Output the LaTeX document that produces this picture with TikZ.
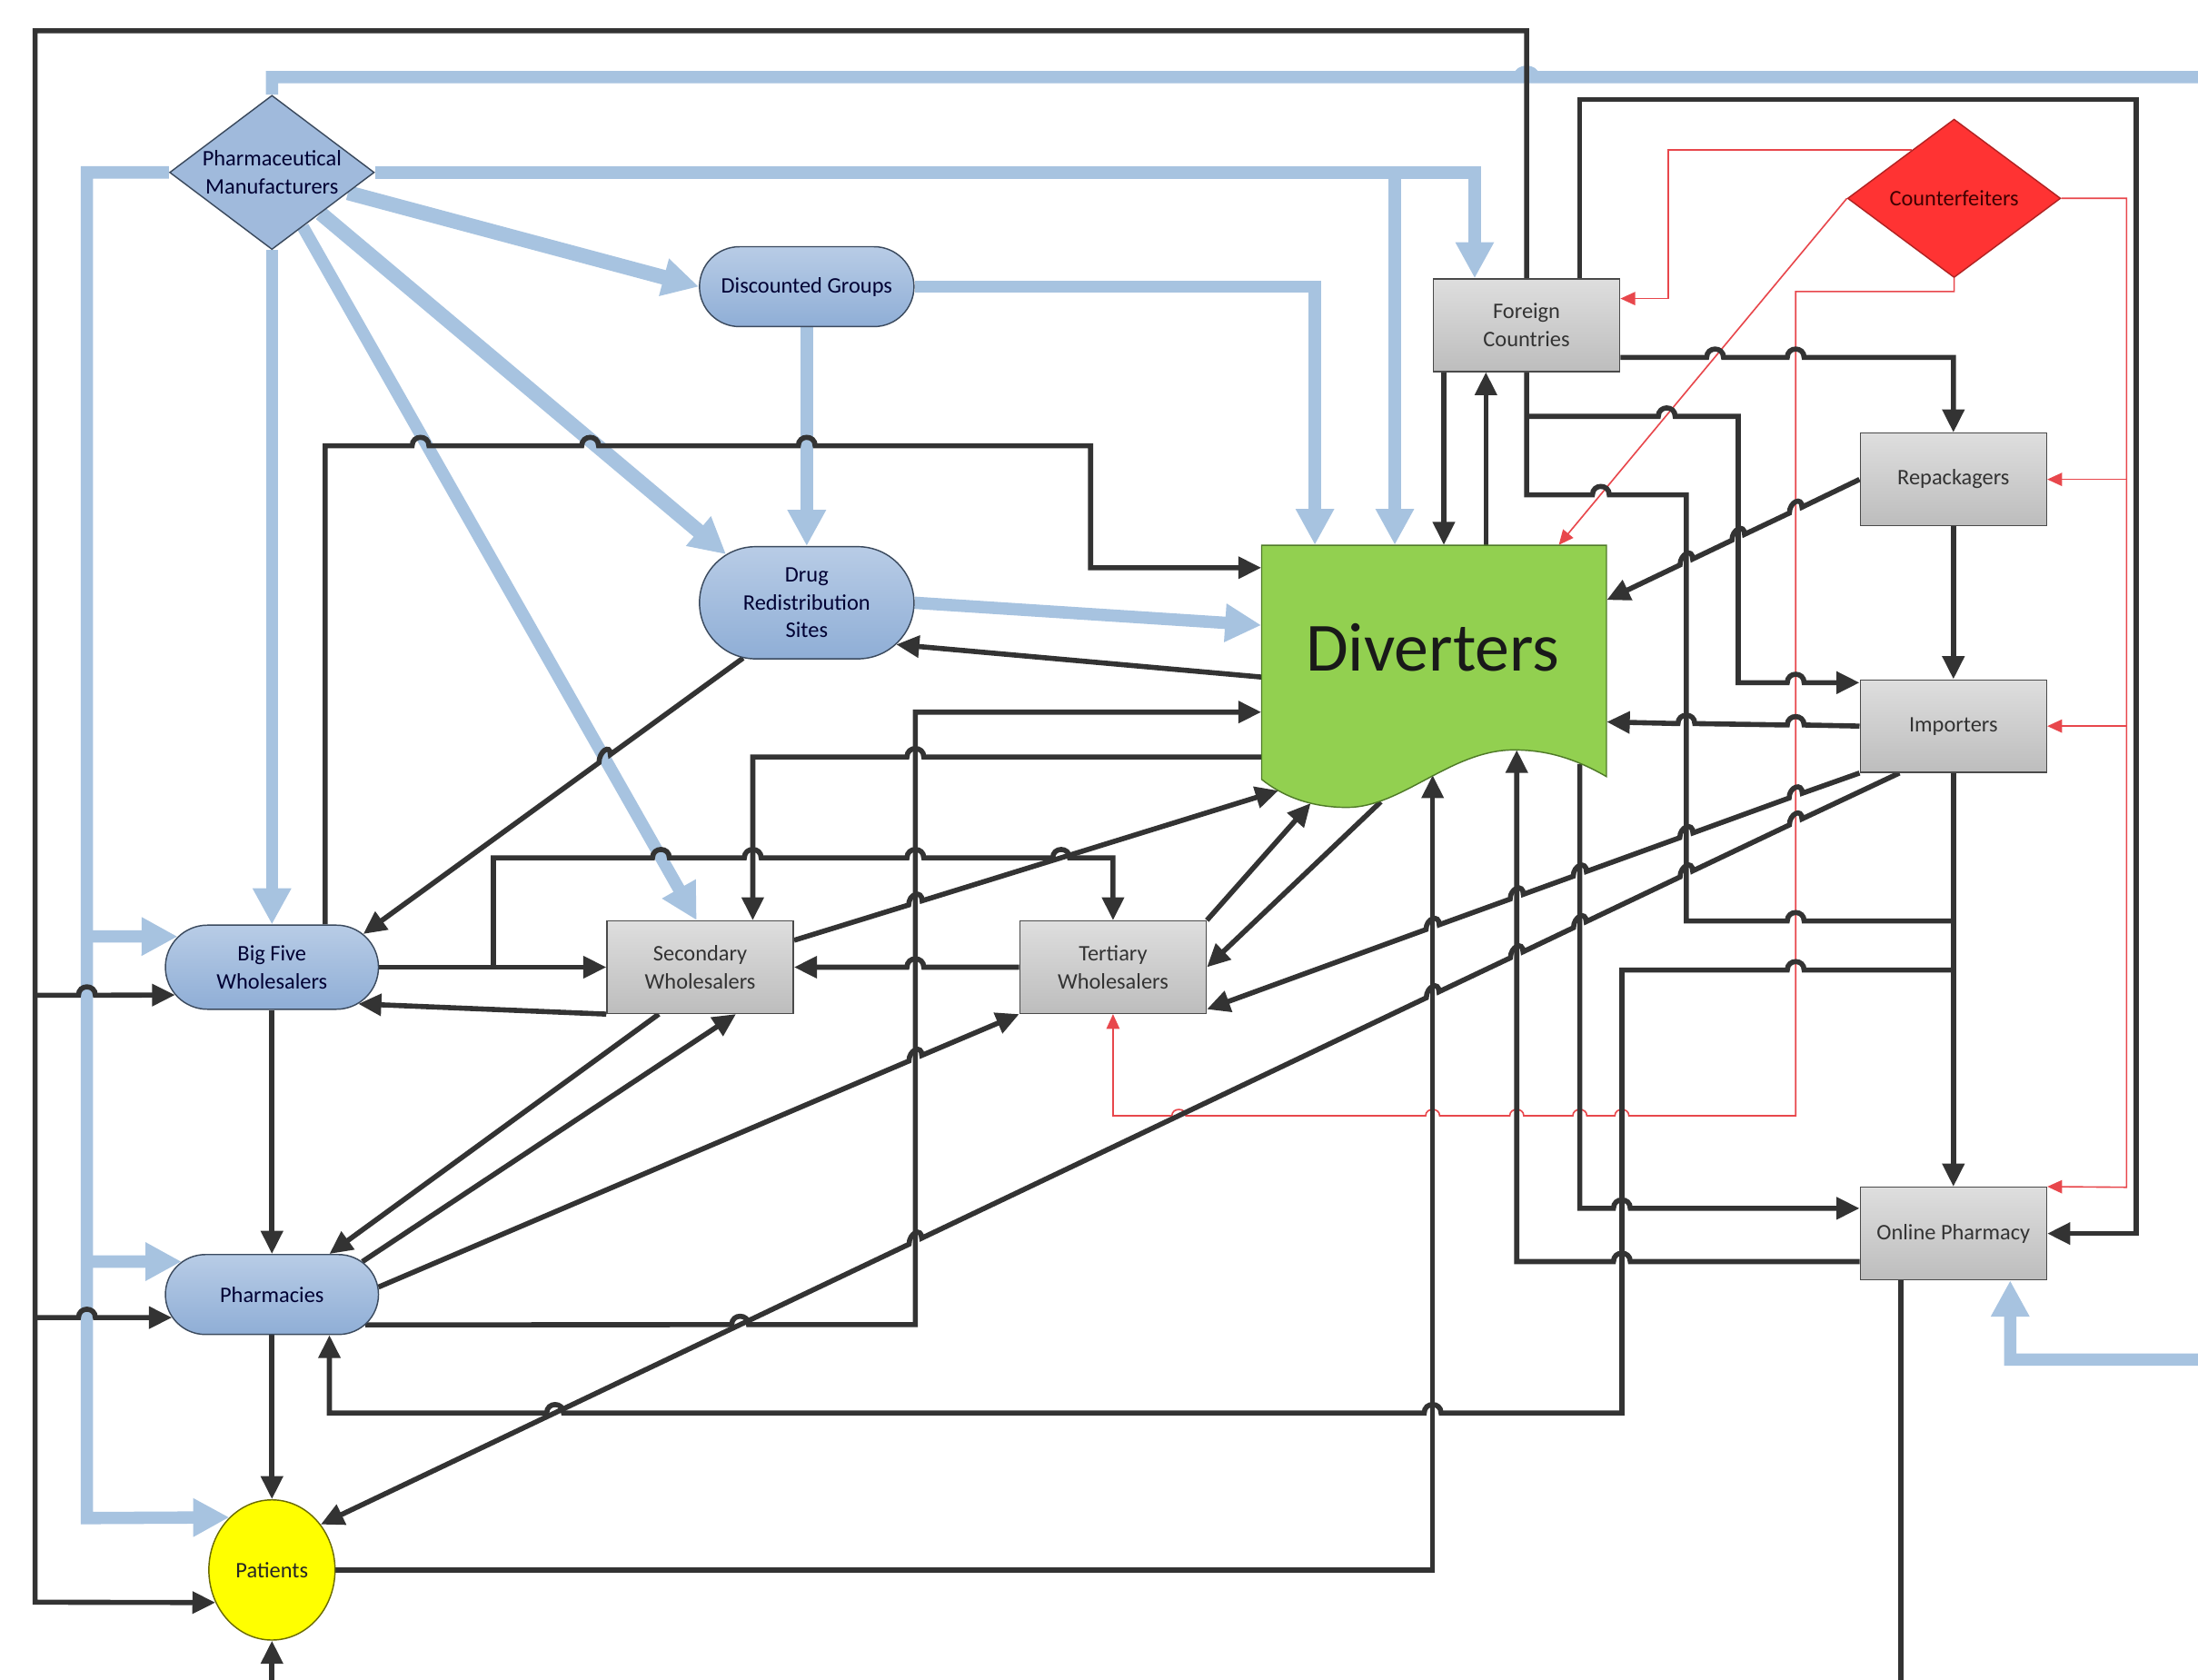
\documentclass[tikz,border=0pt]{standalone}
\usepackage{fontspec}
\setmainfont{Carlito}
\usetikzlibrary{arrows.meta,shapes.geometric,shapes.misc}
\definecolor{lineblk}{HTML}{333333}
\definecolor{lineblu}{HTML}{A7C3E0}
\definecolor{linered}{HTML}{E8474C}
\definecolor{bluefillA}{HTML}{B8CCE6}
\definecolor{bluefillB}{HTML}{8FAED6}
\definecolor{blueedge}{HTML}{3B4A5E}
\definecolor{grayA}{HTML}{DEDEDE}
\definecolor{grayB}{HTML}{BDBDBD}
\definecolor{grayedge}{HTML}{4A4A4A}
\definecolor{divgreen}{HTML}{92D050}
\definecolor{divedge}{HTML}{4F7A28}
\definecolor{cfred}{HTML}{FF3333}
\definecolor{cfedge}{HTML}{B22222}
\definecolor{patyel}{HTML}{FFFF00}
\definecolor{patedge}{HTML}{6B6B00}
\pgfdeclarelayer{bg}
\pgfsetlayers{bg,main}
% line hops (y axis points down, so -8 is upward)
\newcommand{\hopR}[2]{-- ({#1-6},#2) .. controls ({#1-6},{#2-8}) and ({#1+6},{#2-8}) .. ({#1+6},#2)}
\newcommand{\hopL}[2]{-- ({#1+6},#2) .. controls ({#1+6},{#2-8}) and ({#1-6},{#2-8}) .. ({#1-6},#2)}
\newcommand{\hopD}[4]{-- (#1,#2) .. controls (#1,{#2-8}) and (#3,{#4-8}) .. (#3,#4)}
\newcommand{\hopLs}[2]{-- ({#1+5},#2) .. controls ({#1+5},{#2-6}) and ({#1-5},{#2-6}) .. ({#1-5},#2)}
\begin{document}
\begin{tikzpicture}[x=0.03cm,y=-0.03cm,
 txt/.style={font=\fontsize{13.5}{17}\selectfont, align=center, text=black!85, inner sep=0},
 bluenode/.style={rounded rectangle, draw=blueedge, line width=0.8pt, top color=bluefillA, bottom color=bluefillB, inner sep=0, font=\fontsize{13.5}{17}\selectfont, align=center, text=black!80!blue},
 graynode/.style={rectangle, draw=grayedge, line width=0.8pt, top color=grayA, bottom color=grayB, inner sep=0, minimum width=3.99cm, minimum height=1.98cm, font=\fontsize{13.5}{17}\selectfont, align=center, text=black!80},
 blk/.style={draw=lineblk, line width=3.1pt, -{Triangle[length=14pt,width=13pt]}},
 blkn/.style={draw=lineblk, line width=3.1pt},
 blu/.style={draw=lineblu, line width=7.5pt, -{Triangle[length=22pt,width=22pt]}},
 bluthick/.style={blu, line width=9pt},
 rd/.style={draw=linered, line width=0.9pt, -{Triangle[length=9pt,width=8pt]}},
]
\useasboundingbox (0,0) rectangle (1568,1198);
\clip (0,0) rectangle (1568,1198);

% ---------- nodes ----------
\node[diamond, draw=blueedge, line width=0.8pt, fill=bluefillB!85!white, minimum width=4.38cm, minimum height=3.3cm, inner sep=0] (pm) at (194,123) {};
\node[txt, text=black!80!blue] (pmt) at (194,123) {Pharmaceutical\\Manufacturers};
\node[bluenode, minimum width=4.59cm, minimum height=1.71cm] (dg) at (575.5,204.5) {Discounted Groups};
\node[bluenode, minimum width=4.59cm, minimum height=2.4cm] (dr) at (575.5,430) {Drug\\Redistribution\\Sites};
\node[bluenode, minimum width=4.56cm, minimum height=1.8cm] (bf) at (194,690) {Big Five\\Wholesalers};
\node[bluenode, minimum width=4.56cm, minimum height=1.71cm] (ph) at (194,923.5) {Pharmacies};
\node[ellipse, draw=patedge, line width=0.8pt, fill=patyel, minimum width=2.7cm, minimum height=3cm, inner sep=0, font=\fontsize{13.5}{17}\selectfont, text=black!85] (pat) at (194,1120) {Patients};
\node[graynode] (sw) at (499.5,690) {Secondary\\Wholesalers};
\node[graynode] (tw) at (794,690) {Tertiary\\Wholesalers};
\node[graynode] (fc) at (1089,232) {Foreign\\Countries};
\node[graynode] (rp) at (1393.5,342) {Repackagers};
\node[graynode] (im) at (1393.5,518) {Importers};
\node[graynode] (on) at (1393.5,880) {Online Pharmacy};
\node[diamond, draw=cfedge, line width=0.8pt, fill=cfred, minimum width=4.56cm, minimum height=3.39cm, inner sep=0] (cf) at (1394,141.5) {};
\node[txt, text=black!75!red] (cft) at (1394,141.5) {Counterfeiters};

\draw[fill=divgreen, draw=divedge, line width=0.8pt] (900,389) -- (1146,389) -- (1146,554)
  .. controls (1125,542) and (1105,535) .. (1080,535)
  .. controls (1035,535) and (1000,576) .. (961,576)
  .. controls (935,576) and (915,568) .. (900,556) -- cycle;
\node[inner sep=0, minimum width=7.38cm, minimum height=4.98cm] (div) at (1023,472) {};
\node[font=\fontsize{42}{50}\selectfont, text=black!90, inner sep=0] (divt) at (1022,462) {Diverters};

\coordinate (dvA) at (912,564);
\coordinate (dvB) at (935,573);
\coordinate (dvC) at (985,572);
\coordinate (dvD) at (1022,553);
\coordinate (dvE) at (1082,535);
\coordinate (dvF) at (1127,545);
\coordinate (j1) at (1393.5,692);
\coordinate (j2) at (1393.5,657);

\begin{pgfonlayer}{bg}
\fill[white] (0,0) rectangle (1568,1198);
% ---------- blue ----------
\draw[blu] (pm.north) -- (194,55) -- ({1089-5},55) .. controls ({1089-5},50) and ({1089+5},50) .. ({1089+5},55) -- (1640,55) -- (1640,970) -- (1434,970) -- (on.south -| 1434,0);
\draw[blu] (pm.west) -- (62,123) -- (62,1083) -- (pat.129);
\draw[blu] (62,668) -- (bf.162);
\draw[blu] (62,900) -- (ph.160);
\draw[blu] (pm.east) -- (1052,123) -- (fc.north -| 1052,0);
\draw[blu] (995,123) -- (div.north -| 995,0);
\draw[blu] (pm.south) -- (bf.north);
\draw[bluthick] (pm) -- (dg.west);
\draw[bluthick] (pm) -- (dr.149);
\draw[blu] (pm) -- (sw.north -| 497,0);
\draw[blu] (dg.south) -- (dr.north);
\draw[blu] (dg.east) -- (938,204.5) -- (div.north -| 938,0);
\draw[blu] (dr.east) -- (div.west |- 0,446);

% ---------- red ----------
\draw[rd] (cf.131) -| (1190,213) -- (fc.east |- 0,213);
\draw[rd] (cf.west) -- (div.north -| 1112,0);
\draw[rd] (cf.south) -- (1394,208) -- (1281,208) -- (1281,796) \hopLs{1157}{796} \hopLs{1127}{796} \hopLs{1082}{796} \hopLs{1022}{796} \hopLs{841}{796} -- (794,796) -- (tw.south);
\draw[rd] (cf.east) -- (1517,141.5) -- (1517,847) -- (on.north east);
\draw[rd] (1517,342) -- (rp.east);
\draw[rd] (1517,518) -- (im.east);

% ---------- black ----------
\draw[blk] (fc.north) -- (1089,22) -- (25,22) -- (25,1143) -- (pat.210);
\draw[blk] (25,710) \hopR{62}{710} -- (bf.196);
\draw[blk] (25,940) \hopR{62}{940} -- (ph.193);
\draw[blk] (fc.north -| 1127,0) -- (1127,71) -- (1524,71) -- (1524,880) -- (on.east);
\draw[blk] (bf.north -| 232,0) -- (232,318) \hopR{300}{318} \hopR{421}{318} \hopR{575.5}{318} -- (778,318) -- (778,405) -- (div.west |- 0,405);
\draw[blk] (dr.221) \hopD{435.4}{538.3}{427.3}{544.1} -- (bf.20);
\draw[blk] (div.west |- 0,483) -- (dr.-25);
\draw[blk] (ph.-18) \hopR{528}{945} -- (653,945) -- (653,508) -- (div.west |- 0,508);
\draw[blk] (div.west |- 0,540) \hopL{653}{540} -- (537,540) -- (sw.north -| 537,0);
\draw[blk] (bf.east) -- (sw.west);
\draw[blk] (352,690) -- (352,612) \hopR{471.5}{612} \hopR{537}{612} \hopR{653}{612} \hopR{757}{612} -- (794,612) -- (tw.north);
\draw[blk] (sw.south west) -- (bf.-23);
\draw[blk] (sw.16) \hopD{648.2}{645.6}{657.8}{642.6} -- (dvA);
\draw[blk] (tw.west) \hopL{653}{690} -- (sw.east);
\draw[blk] (tw.north east) -- (dvB);
\draw[blk] (dvC) -- (tw.east);
\draw[blk] (sw.south -| 470,0) -- (ph.north -| 235,0);
\draw[blk] (ph.20) -- (sw.south -| 525,0);
\draw[blk] (ph.4) \hopD{648.4}{756.9}{657.6}{752.9} -- (tw.south west);
\draw[blk] (bf.south) -- (ph.north);
\draw[blk] (ph.south) -- (pat.north);
\draw[blk] (pat.east) -- (1022,1120) -- (dvD);
\draw[blk] (j1) \hopL{1281}{692} -- (1157,692) -- (1157,1008) \hopL{1022}{1008} \hopL{396}{1008} -- (235,1008) -- (ph.south -| 235,0);
\draw[blkn] (fc.south) -- (1089,353) \hopR{1142}{353} -- (1203,353) -- (1203,657) \hopR{1281}{657} -- (j2);
\draw[blk] (1089,297) \hopR{1189}{297} -- (1240,297) -- (1240,487) \hopR{1281}{487} -- (im.west |- 0,487);
\draw[blk] (fc.east |- 0,255) \hopR{1223.5}{255} \hopR{1281}{255} -- (1393.5,255) -- (rp.north);
\draw[blk] (fc.south -| 1030,0) -- (div.north -| 1030,0);
\draw[blk] (div.north -| 1060,0) -- (fc.south -| 1060,0);
\draw[blk] (rp.south) -- (im.north);
\draw[blk] (rp.west) \hopD{1285.5}{361.8}{1276.5}{366} \hopD{1244.5}{381.2}{1235.5}{385.4} \hopD{1207.5}{398.8}{1198.5}{403} -- (div.east |- 0,428);
\draw[blk] (im.west) \hopL{1281}{517.2} \hopL{1203}{516.2} -- (div.east |- 0,515);
\draw[blk] (im.south west) \hopD{1285.7}{565.9}{1276.3}{569.3} \hopD{1207.7}{594.2}{1198.3}{597.6} \hopD{1131.7}{621.7}{1122.3}{625.1} \hopD{1086.7}{638}{1077.3}{641.4} \hopD{1026.7}{659.7}{1017.3}{663.1} -- (tw.east |- 0,720);
\draw[blk] (im.south -| 1355,0) \hopD{1285.5}{584.2}{1276.5}{588.5} \hopD{1207.5}{621.3}{1198.5}{625.6} \hopD{1131.5}{657.5}{1122.5}{661.8} \hopD{1086.5}{679}{1077.5}{683.3} \hopD{1026.5}{707.5}{1017.5}{711.8} \hopD{657.5}{883.3}{648.5}{887.6} -- (pat.43);
\draw[blk] (im.south) -- (on.north);
\draw[blk] (dvF) -- (1127,862) \hopR{1157}{862} -- (on.west |- 0,862);
\draw[blk] (on.west |- 0,900) \hopL{1157}{900} -- (1082,900) -- (dvE);
\draw[blk] (on.south -| 1356,0) -- (1356,1240) -- (194,1240) -- (pat.south);
\end{pgfonlayer}
\end{tikzpicture}
\end{document}
